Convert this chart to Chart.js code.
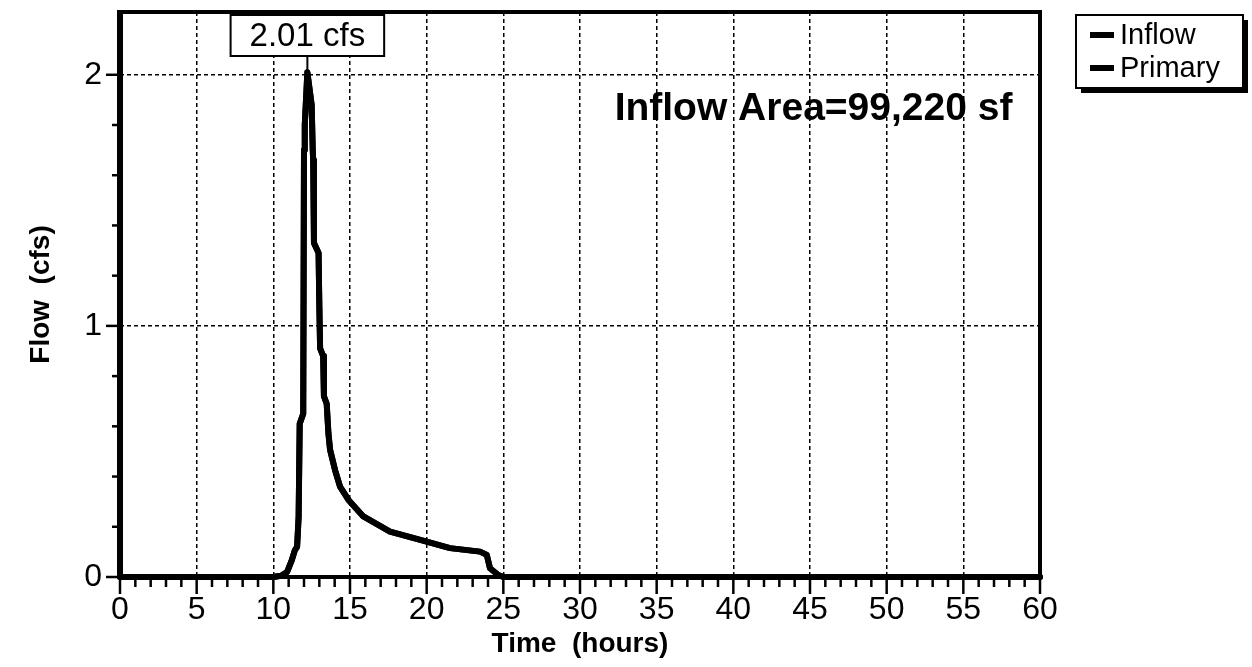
<!DOCTYPE html>
<html>

<head>
    <title>Hydrograph</title>
    <script src="https://cdn.jsdelivr.net/npm/chart.js"></script>
    <style>
        body {
            margin: 0;
            background: #fff;
        }

        canvas {
            display: block;
        }
    </style>
</head>

<body>
    <canvas id="chart1" width="1252" height="667"></canvas>

    <script>
        // values
        const inflowHours = [0, 10, 10.5, 10.9, 11.2, 11.4, 11.55, 11.65, 11.72, 11.95, 12.0, 12.05, 12.22, 12.5, 12.57, 12.6, 12.65, 12.95, 13.0, 13.05, 13.25, 13.3, 13.48, 13.59, 13.7, 14.02, 14.35, 14.9, 15.87, 17.61, 20.0, 21.52, 23.48, 23.92, 24.13, 24.67, 25, 60];
        const inflowFlow = [0, 0, 0.005, 0.02, 0.066, 0.106, 0.12, 0.24, 0.61, 0.65, 1.70, 1.80, 2.01, 1.88, 1.70, 1.66, 1.33, 1.29, 1.08, 0.91, 0.88, 0.72, 0.69, 0.574, 0.507, 0.427, 0.36, 0.307, 0.241, 0.181, 0.141, 0.115, 0.101, 0.088, 0.035, 0.008, 0, 0];
        const primaryFlow = [0, 0, 0.005, 0.02, 0.066, 0.106, 0.12, 0.24, 0.61, 0.65, 1.70, 1.80, 2.01, 1.88, 1.70, 1.66, 1.33, 1.29, 1.08, 0.91, 0.88, 0.72, 0.69, 0.574, 0.507, 0.427, 0.36, 0.307, 0.241, 0.181, 0.141, 0.115, 0.101, 0.088, 0.035, 0.008, 0, 0];
        const seriesNames = ['Inflow', 'Primary'];
        const xTickLabels = [0, 5, 10, 15, 20, 25, 30, 35, 40, 45, 50, 55, 60];
        const yTickLabels = [0, 1, 2];
        const areaNote = 'Inflow Area=99,220 sf';

        const FONT = '"Liberation Sans", Arial, sans-serif';

        const isMajorX = v => xTickLabels.includes(v);
        const isMajorY = v => yTickLabels.some(t => Math.abs(t - v) < 1e-6);

        function stroke(ctx, x1, y1, x2, y2) {
            ctx.beginPath();
            ctx.moveTo(x1, y1);
            ctx.lineTo(x2, y2);
            ctx.stroke();
        }

        // frame, tick marks, peak label, area note and boxed legend
        const decor = {
            id: 'decor',
            afterDraw(chart) {
                const { ctx, chartArea: a, scales: { x, y } } = chart;
                ctx.save();
                ctx.strokeStyle = '#000';
                ctx.fillStyle = '#000';

                ctx.lineWidth = 4;
                ctx.strokeRect(a.left, a.top, a.right - a.left, a.bottom - a.top);
                ctx.lineWidth = 6;
                stroke(ctx, a.left, a.top - 2, a.left, a.bottom);

                // x ticks, every hour, longer every 5
                ctx.lineWidth = 2.5;
                x.ticks.forEach(t => {
                    const px = x.getPixelForValue(t.value);
                    stroke(ctx, px, a.bottom, px, a.bottom + (isMajorX(t.value) ? 17 : 10));
                });
                // y ticks, every 0.2
                y.ticks.forEach(t => {
                    if (Math.abs(t.value * 5 - Math.round(t.value * 5)) > 1e-6) return;
                    const py = y.getPixelForValue(t.value);
                    stroke(ctx, a.left, py, a.left - (isMajorY(t.value) ? 14 : 8), py);
                });

                // peak label
                const peak = Math.max(...inflowFlow);
                const peakHour = inflowHours[inflowFlow.indexOf(peak)];
                const px = x.getPixelForValue(peakHour);
                const py = y.getPixelForValue(peak);
                ctx.font = '33px ' + FONT;
                const label = peak.toFixed(2) + ' cfs';
                const w = ctx.measureText(label).width + 38;
                const top = a.top + 3, h = 41;
                ctx.lineWidth = 2;
                stroke(ctx, px, top + h, px, py);
                ctx.fillStyle = '#fff';
                ctx.fillRect(px - w / 2, top, w, h);
                ctx.strokeRect(px - w / 2, top, w, h);
                ctx.fillStyle = '#000';
                ctx.textAlign = 'center';
                ctx.textBaseline = 'middle';
                ctx.fillText(label, px, top + h / 2 + 1);

                // area note
                ctx.font = 'bold 39px ' + FONT;
                ctx.textAlign = 'right';
                ctx.textBaseline = 'alphabetic';
                ctx.fillText(areaNote, x.getPixelForValue(58.2), y.getPixelForValue(1.82));

                // legend box with drop shadow
                const lx = a.right + 36, ly = a.top + 3, lw = 167, lh = 73;
                ctx.fillRect(lx + 5, ly + 5, lw, lh);
                ctx.fillStyle = '#fff';
                ctx.fillRect(lx, ly, lw, lh);
                ctx.lineWidth = 2;
                ctx.strokeRect(lx, ly, lw, lh);
                ctx.fillStyle = '#000';
                ctx.font = '29px ' + FONT;
                ctx.textAlign = 'left';
                ctx.textBaseline = 'middle';
                chart.data.datasets.forEach((ds, i) => {
                    const cy = ly + 20 + i * 33;
                    ctx.lineWidth = 6;
                    ctx.lineCap = 'butt';
                    stroke(ctx, lx + 14, cy, lx + 38, cy);
                    ctx.fillText(ds.label, lx + 44, cy + 1);
                });
                ctx.restore();
            }
        };

        const flowSets = [inflowFlow, primaryFlow];

        new Chart(document.getElementById('chart1'), {
            type: 'line',
            data: {
                datasets: seriesNames.map((name, i) => ({
                    label: name,
                    data: inflowHours.map((h, j) => ({ x: h, y: flowSets[i][j] })),
                    borderColor: '#000',
                    borderWidth: 6,
                    borderJoinStyle: 'round',
                    borderCapStyle: 'round',
                    pointRadius: 0,
                    tension: 0,
                    fill: false,
                    clip: 8
                }))
            },
            options: {
                responsive: false,
                animation: false,
                layout: {
                    padding: { top: 12, right: 212, left: 0, bottom: 0 }
                },
                plugins: {
                    legend: { display: false },
                    tooltip: { enabled: false }
                },
                scales: {
                    x: {
                        type: 'linear',
                        min: 0,
                        max: 60,
                        afterFit: scale => {
                            scale.height = 90;
                            scale.paddingLeft = 0;
                            scale.paddingRight = 0;
                        },
                        ticks: {
                            stepSize: 1,
                            autoSkip: false,
                            maxRotation: 0,
                            padding: 14,
                            color: '#000',
                            font: { family: FONT, size: 32 },
                            callback: v => isMajorX(v) ? v : ''
                        },
                        grid: {
                            drawTicks: false,
                            lineWidth: 1.5,
                            color: c => (c.tick && isMajorX(c.tick.value) && c.tick.value > 0 && c.tick.value < 60) ? '#000' : 'rgba(0,0,0,0)'
                        },
                        border: { display: false, dash: [4, 3] },
                        title: {
                            display: true,
                            text: 'Time  (hours)',
                            color: '#000',
                            font: { family: FONT, size: 28, weight: 'bold' },
                            padding: { top: 0, bottom: 6 }
                        }
                    },
                    y: {
                        type: 'linear',
                        min: 0,
                        max: 2.25,
                        afterFit: scale => {
                            scale.width = 120;
                            scale.paddingTop = 0;
                            scale.paddingBottom = 0;
                        },
                        ticks: {
                            stepSize: 0.2,
                            autoSkip: false,
                            padding: 18,
                            color: '#000',
                            font: { family: FONT, size: 32 },
                            callback: v => isMajorY(v) ? Math.round(v) : ''
                        },
                        grid: {
                            drawTicks: false,
                            lineWidth: 1.5,
                            color: c => (c.tick && isMajorY(c.tick.value) && c.tick.value > 0.5) ? '#000' : 'rgba(0,0,0,0)'
                        },
                        border: { display: false, dash: [4, 3] },
                        title: {
                            display: true,
                            text: 'Flow  (cfs)',
                            color: '#000',
                            font: { family: FONT, size: 28, weight: 'bold' },
                            padding: { top: 24, bottom: 0 }
                        }
                    }
                }
            },
            plugins: [decor]
        });
    </script>
</body>

</html>
